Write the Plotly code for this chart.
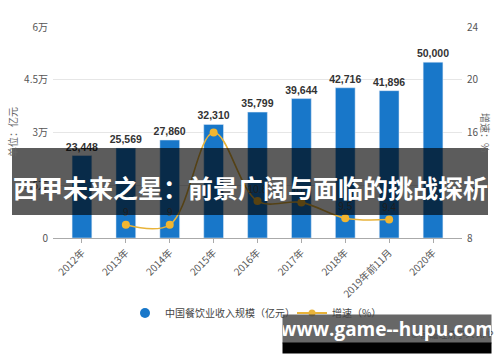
import plotly.graph_objects as go

years = ["2012年", "2013年", "2014年", "2015年", "2016年", "2017年", "2018年", "2019年前11月", "2020年"]
revenue = [23448, 25569, 27860, 32310, 35799, 39644, 42716, 41896, 50000]
growth = [None, 9.0, 9.0, 16.0, 10.8, 10.7, 9.5, 9.4, None]
growth_labels = ["", "9", "9", "", "10.8", "10.7", "9.5", "9.4", ""]
left_ticks = [0, 15000, 30000, 45000, 60000]
left_ticktext = ["0", "1.5万", "3万", "4.5万", "6万"]
right_ticks = [8, 12, 16, 20, 24]

BLUE = "#1877c9"
GOLD = "#e8b33a"
FONT = "Noto Sans CJK SC"

# plot-area pixel geometry, for placing overlays in paper coords
L, R, T, B = 53, 462, 27, 238
def px(x):
    return (x - L) / (R - L)
def py(y):
    return (B - y) / (B - T)

fig = go.Figure()
fig.add_trace(go.Bar(
    x=years, y=revenue, marker_color=BLUE, showlegend=False,
    text=[f"{v:,}" for v in revenue], textposition="outside", constraintext="none",
    textfont=dict(family="Liberation Sans", size=10.5, color="#333333", weight="bold"),
    cliponaxis=False,
))
fig.add_trace(go.Scatter(
    x=years, y=growth, yaxis="y2", mode="lines+markers+text",
    line=dict(color=GOLD, width=1.6, shape="spline", smoothing=1.0),
    marker=dict(color="#f2b630", size=8),
    text=growth_labels, textposition="top center",
    textfont=dict(family="Liberation Sans", size=10, color="#555555"),
    showlegend=False, connectgaps=False, cliponaxis=False,
))
# legend entries
fig.add_trace(go.Scatter(x=[None], y=[None], mode="markers", name="中国餐饮业收入规模（亿元）",
                         marker=dict(color=BLUE, size=10, symbol="circle")))
fig.add_trace(go.Scatter(x=[None], y=[None], mode="lines+markers", name="增速（%）", yaxis="y2",
                         line=dict(color=GOLD, width=2), marker=dict(color=GOLD, size=7)))

fig.update_layout(
    width=500, height=362,
    margin=dict(l=L, r=500 - R, t=T, b=362 - B),
    plot_bgcolor="white", paper_bgcolor="white",
    font=dict(family=FONT, size=10, color="#555555"),
    bargap=0.55,
    xaxis=dict(type="category", range=[-0.66, 8.66], tickangle=-45,
               showline=True, linecolor="#aaaaaa", ticks="outside", ticklen=4,
               tickcolor="#aaaaaa", tickfont=dict(size=10, color="#555555"), showgrid=False),
    yaxis=dict(range=[0, 60000], tickvals=left_ticks, ticktext=left_ticktext,
               gridcolor="#e6e6e6", zeroline=False, tickfont=dict(size=10, color="#555555"),
               ticks="", ticklabelstandoff=4),
    yaxis2=dict(range=[8, 24], tickvals=right_ticks, overlaying="y", side="right",
                showgrid=False, zeroline=False, tickfont=dict(size=10, color="#555555"),
                ticklabelstandoff=4),
    legend=dict(orientation="h", x=px(292), xanchor="center", y=py(313), yanchor="middle",
                font=dict(size=10, color="#444444"), itemwidth=30, entrywidth=122,
                bgcolor="rgba(0,0,0,0)"),
    showlegend=True,
)

def ann(**kw):
    base = dict(xref="paper", yref="paper", xanchor="center", yanchor="middle", showarrow=False)
    base.update(kw)
    return base

annotations = [
    ann(text="单位：亿元", x=px(12), y=py(132), textangle=-90, font=dict(size=10, color="#666666")),
    ann(text="增速：%", x=px(486), y=py(132), textangle=90, font=dict(size=10, color="#666666")),
    ann(text="西甲未来之星：前景广阔与面临的挑战探析", x=px(250), y=py(187),
        font=dict(family=FONT, size=25, color="white", weight="bold")),
    ann(text="© 前瞻经济学人 APP", x=px(496), y=py(334), xanchor="right",
        font=dict(size=9, color="#555555")),
    ann(text="www.game--hupu.com", x=px(387), y=py(329), width=208, height=28, borderpad=0,
        bgcolor="rgba(70,70,70,0.82)", font=dict(family="Open Sans", size=19, color="white", weight="bold")),
    ann(text="", x=px(387), y=py(348), width=208, height=10, borderpad=0, bgcolor="black"),
]
fig.update_layout(annotations=annotations)

fig.add_shape(type="rect", xref="paper", yref="paper", x0=px(12), x1=px(488), y0=py(215), y1=py(148),
              fillcolor="rgba(0,0,0,0.64)", line=dict(width=0), layer="above")

fig.write_html("out.html", config={"displayModeBar": False},
               post_script="document.body.style.margin='0px';document.body.style.overflow='hidden';")
